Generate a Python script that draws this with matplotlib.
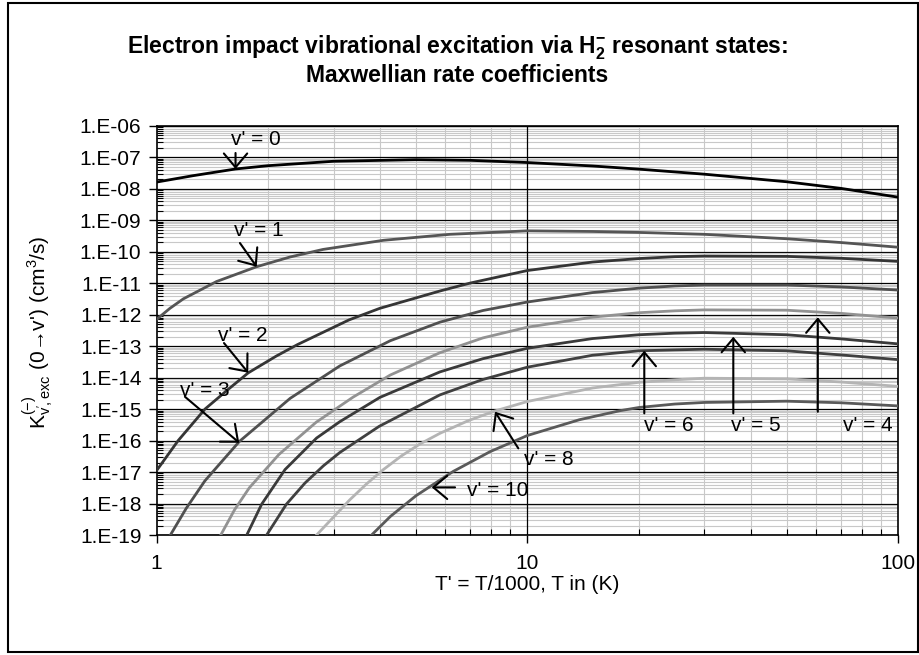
import numpy as np
import matplotlib
matplotlib.use("Agg")
import matplotlib.pyplot as plt
from matplotlib.ticker import LogLocator, FuncFormatter, NullFormatter
from matplotlib.patches import Rectangle

plt.rcParams['font.family'] = ['Liberation Sans', 'DejaVu Sans']
plt.rcParams['mathtext.fontset'] = 'custom'
plt.rcParams['mathtext.rm'] = 'Liberation Sans'
plt.rcParams['mathtext.it'] = 'Liberation Sans'
plt.rcParams['mathtext.bf'] = 'Liberation Sans:bold'

#---------- Data (T' and log10 of rate coefficient) ----------#

x_v0 = [1, 1.25, 1.632, 2, 3, 5, 7, 10, 15, 20, 30, 50, 70, 100]
logk_v0 = [-7.79, -7.59, -7.375, -7.27, -7.13, -7.08, -7.10, -7.17, -7.28, -7.38, -7.54, -7.78, -7.99, -8.27]

x_v1 = [1, 1.086, 1.18, 1.45, 1.86, 2.29, 2.81, 4.09, 6.18, 10, 15, 20, 30, 50, 70, 100]
logk_v1 = [-12.15, -11.80, -11.50, -10.95, -10.48, -10.17, -9.93, -9.64, -9.45, -9.34, -9.36, -9.39, -9.45, -9.59, -9.71, -9.86]

x_v2 = [1, 1.143, 1.35, 1.55, 1.766, 2.1, 2.4, 3.3, 4, 5.81, 7, 10, 15, 20, 25, 30, 50, 70, 100]
logk_v2 = [-16.95, -16.0, -15.0, -14.4, -13.85, -13.32, -12.95, -12.17, -11.80, -11.25, -11.0, -10.60, -10.33, -10.22, -10.16, -10.14, -10.15, -10.21, -10.31]

x_v3 = [1.089, 1.202, 1.349, 1.671, 2.291, 3.119, 4.266, 5.808, 7.586, 10, 15, 20, 25, 30, 50, 70, 100]
logk_v3 = [-19.0, -18.15, -17.28, -16.03, -14.66, -13.63, -12.83, -12.24, -11.87, -11.60, -11.30, -11.16, -11.09, -11.06, -11.06, -11.12, -11.22]

x_v4 = [1.489, 1.622, 1.778, 2.138, 2.692, 3.388, 4.266, 5.808, 7.586, 10, 15, 20, 25, 30, 50, 70, 100]
logk_v4 = [-19.0, -18.20, -17.50, -16.44, -15.42, -14.62, -13.92, -13.21, -12.74, -12.40, -12.08, -11.94, -11.88, -11.85, -11.86, -11.96, -12.11]

x_v5 = [1.75, 1.92, 2.22, 2.70, 3.12, 4.0, 5.808, 7.586, 10, 15, 20, 25, 30, 50, 70, 100]
logk_v5 = [-19.0, -18.02, -16.92, -15.92, -15.40, -14.63, -13.82, -13.40, -13.07, -12.76, -12.64, -12.59, -12.57, -12.64, -12.77, -12.93]

x_v6 = [1.98, 2.239, 2.512, 2.818, 3.119, 3.981, 5.808, 7.586, 10, 15, 20, 25, 30, 50, 70, 100]
logk_v6 = [-19.0, -18.02, -17.35, -16.80, -16.38, -15.55, -14.55, -14.06, -13.67, -13.29, -13.15, -13.12, -13.10, -13.15, -13.28, -13.43]

x_v8 = [2.70, 3.32, 3.68, 4.08, 4.57, 5.13, 5.81, 6.92, 8.18, 10, 15, 20, 25, 30, 50, 70, 100]
logk_v8 = [-19.0, -17.88, -17.38, -16.93, -16.49, -16.11, -15.77, -15.37, -15.06, -14.76, -14.33, -14.15, -14.07, -14.02, -14.04, -14.14, -14.28]

x_v10 = [3.80, 4.27, 5.01, 6.31, 7.94, 10, 13.8, 17.8, 20, 25, 30, 50, 70, 100]
logk_v10 = [-19.0, -18.41, -17.75, -16.98, -16.35, -15.84, -15.34, -15.05, -14.95, -14.84, -14.79, -14.75, -14.80, -14.90]

curves = [
    (x_v0, logk_v0, '#000000'),
    (x_v1, logk_v1, '#555555'),
    (x_v2, logk_v2, '#353535'),
    (x_v3, logk_v3, '#505050'),
    (x_v4, logk_v4, '#929292'),
    (x_v5, logk_v5, '#3a3a3a'),
    (x_v6, logk_v6, '#404040'),
    (x_v8, logk_v8, '#b4b4b4'),
    (x_v10, logk_v10, '#5a5a5a'),
]

# label text, text centre, arrow tail, arrow tip (T', log10 K)
labels = [
    ("v' = 0", (1.853, -6.454), (1.632, -6.867), (1.632, -7.375)),
    ("v' = 1", (1.888, -9.329), (1.677, -9.726), (1.861, -10.479)),
    ("v' = 2", (1.704, -12.649), (1.519, -12.903), (1.766, -13.846)),
    ("v' = 3", (1.350, -14.396), (1.192, -14.609), (1.670, -16.07)),
    ("v' = 4", (82.96, -15.524), (60.73, -15.085), (60.73, -12.086)),
    ("v' = 5", (41.38, -15.524), (35.93, -15.136), (35.93, -12.703)),
    ("v' = 6", (24.10, -15.524), (20.67, -15.136), (20.67, -13.147)),
    ("v' = 8", (11.44, -16.604), (9.453, -16.248), (8.178, -15.085)),
    ("v' = 10", (8.33, -17.572), (6.38, -17.487), (5.52, -17.487)),
]

#---------- Plot ----------#

fig = plt.figure(figsize=(9.2, 6.55), dpi=100)
ax = fig.add_axes([0.1703, 0.1832, 0.8059, 0.6249])
ax.set_axisbelow(True)

for xs, lk, c in curves:
    ax.plot(xs, 10.0 ** np.array(lk), color=c, lw=2.0, zorder=3)

ax.set_xscale('log')
ax.set_yscale('log')
ax.set_xlim(1, 100)
ax.set_ylim(1e-19, 1e-6)

ax.yaxis.set_major_locator(LogLocator(base=10, numticks=30))
ax.yaxis.set_minor_locator(LogLocator(base=10, subs=np.arange(2, 10), numticks=30))
ax.yaxis.set_major_formatter(FuncFormatter(lambda v, p: "1.E-%02d" % abs(int(round(np.log10(v))))))
ax.yaxis.set_minor_formatter(NullFormatter())
ax.xaxis.set_major_locator(LogLocator(base=10, numticks=10))
ax.xaxis.set_minor_locator(LogLocator(base=10, subs=np.arange(2, 10), numticks=10))
ax.xaxis.set_major_formatter(FuncFormatter(lambda v, p: "%d" % round(v)))
ax.xaxis.set_minor_formatter(NullFormatter())

ax.grid(which='minor', color='#c8c8c8', lw=0.8)
ax.yaxis.grid(which='major', color='black', lw=0.9)
ax.axvline(10, color='black', lw=0.9, zorder=1)
ax.tick_params(which='major', direction='out', length=6, width=1, labelsize=15, pad=5)
ax.tick_params(which='minor', direction='in', length=4, width=0.8)
ax.tick_params(axis='x', which='major', pad=8)
for s in ax.spines.values():
    s.set_linewidth(1.2)

for txt, tpos, tail, tip in labels:
    ax.text(tpos[0], 10 ** tpos[1], txt, fontsize=15, ha='center', va='center', zorder=5)
    ax.annotate('', xy=(tip[0], 10 ** tip[1]), xytext=(tail[0], 10 ** tail[1]),
                arrowprops=dict(arrowstyle='->,head_length=0.5,head_width=0.42', color='black',
                                lw=1.5, shrinkA=0, shrinkB=0, mutation_scale=20), zorder=5)

fig.text(0.497, 0.927, r"Electron impact vibrational excitation via H$_\mathbf{2}^\mathbf{-}$ resonant states:",
         fontsize=16.5, fontweight='bold', ha='center', va='center')
fig.text(0.497, 0.885, "Maxwellian rate coefficients", fontsize=16.5, fontweight='bold', ha='center', va='center')
fig.text(0.573, 1 - 584 / 655, "T' = T/1000, T in (K)", fontsize=15, ha='center', va='center')
fig.text(38 / 920, 1 - 332 / 655, r"K$^{(-)}_{\mathrm{v',exc}}$ (0→v') (cm$^3$/s)", fontsize=15,
         rotation=90, ha='center', va='center')

fig.add_artist(Rectangle((8 / 920, 3 / 655), 910 / 920, 649 / 655, transform=fig.transFigure,
                         fill=False, edgecolor='black', lw=1.5))

plt.savefig("out.png", dpi=100)
